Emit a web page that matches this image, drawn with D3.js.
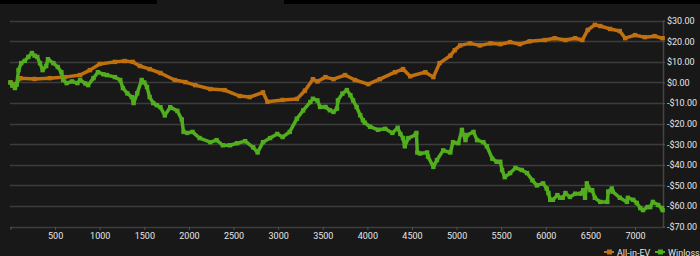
<!DOCTYPE html>
<html><head><meta charset="utf-8">
<script src="https://cdn.jsdelivr.net/npm/d3@7/dist/d3.min.js"></script>
<style>
html,body{margin:0;padding:0;background:#181818;}
svg{display:block;}
</style></head>
<body>
<svg id="chart" width="700" height="256"></svg>
<script>
// Hands played
const evHands = [0,20,50,110,270,440,610,780,890,1000,1170,1280,1370,1450,1560,1680,1840,1960,2070,2240,2400,2570,2680,2830,2880,3050,3210,3300,3390,3440,3530,3620,3750,3860,4010,4140,4310,4400,4480,4650,4740,4810,4930,4980,5040,5150,5260,5380,5490,5600,5710,5820,5990,6100,6220,6330,6410,6470,6550,6610,6720,6830,6890,7000,7110,7220,7310];
// All-in-EV ($)
const evValues = [0,-0.8,-1.2,2.1,1.7,2.1,2.6,3.6,6,9,10,10.4,10,8,6.5,4.6,1.2,0.2,-1.3,-3.2,-3.7,-6.6,-7.1,-4.8,-9.4,-8.5,-8,-4,1.6,0.5,2.6,1.6,3.6,1.2,-0.8,1.6,5,6.5,3,5,2.6,9.4,13,15.7,18,19,18,19,18.6,19.6,18.6,20,20.6,21.5,20.6,21.5,20.6,25.5,28,27.4,26,25,21.5,23,22,22.5,21.5];

const wlHands = [0,20,50,70,90,120,160,200,240,270,300,330,360,400,420,480,530,570,590,630,690,750,780,840,870,930,980,1040,1080,1170,1230,1260,1310,1360,1380,1420,1470,1500,1530,1560,1600,1640,1680,1730,1790,1870,1920,1940,1980,2040,2120,2240,2310,2380,2460,2540,2630,2720,2770,2830,2910,2990,3050,3130,3210,3280,3360,3390,3440,3470,3530,3580,3620,3660,3670,3720,3770,3810,3840,3880,3920,3950,3970,4030,4120,4200,4280,4340,4370,4400,4420,4460,4540,4550,4560,4590,4670,4680,4740,4780,4850,4930,4960,5020,5060,5100,5120,5190,5230,5300,5340,5400,5450,5490,5510,5540,5600,5660,5730,5790,5850,5900,5970,6010,6030,6050,6080,6130,6160,6190,6220,6270,6330,6390,6420,6440,6460,6500,6520,6550,6610,6690,6700,6740,6750,6830,6910,6920,6980,7020,7060,7090,7140,7170,7200,7260,7300,7310];
// Winloss ($)
const wlValues = [0,-1.5,-2.7,-1,6,9.4,10.5,12.4,14.3,13,12.4,9.4,6,8,11.3,9.4,7.5,5,1.2,-0.3,0.5,-0.3,1.2,-0.5,-1.3,2.1,5,4,3.6,2.6,1.2,-2.7,-5.3,-7.1,-10,-5.3,1.2,0,-2.2,-7.1,-10,-11,-12,-16,-12,-13.8,-18,-24,-24.5,-24,-27,-29,-28,-30.5,-30.5,-29.5,-28.5,-31.5,-34,-29,-27,-25,-26.5,-24,-17.6,-13.6,-9.5,-7.9,-8.7,-11.9,-11.9,-13.5,-14.3,-12.7,-8.7,-5.4,-3.7,-6.2,-8.7,-11.9,-15.9,-18.3,-19.5,-21.5,-23,-22.5,-24.5,-22,-25,-27,-31,-27,-25.5,-24.5,-34,-34.5,-34,-36,-41,-37.7,-33,-34,-29,-29.5,-23,-28,-25.5,-24,-28,-29,-31,-37,-38.5,-38.5,-42.5,-46,-44,-41.5,-42.5,-44,-47.5,-50,-49,-51.5,-53.7,-57,-57,-54.7,-56,-56,-53.7,-55.6,-54,-54,-52.3,-56,-49,-52.3,-52.3,-56,-58,-58,-53,-51.5,-53,-56,-58,-56,-57,-58.5,-61,-62,-60.5,-60.5,-58,-59.5,-61,-62];

const xTicks = [0,500,1000,1500,2000,2500,3000,3500,4000,4500,5000,5500,6000,6500,7000];
const yTicks = [-70,-60,-50,-40,-30,-20,-10,0,10,20,30];
const seriesNames = ["All-in-EV","Winloss"];
const seriesColors = ["#c0700f","#52ad1f"];

const svg = d3.select("#chart");
const font = "Roboto, 'Open Sans', sans-serif";

// top black strips
svg.append("rect").attr("x",0).attr("y",0).attr("width",157).attr("height",4).attr("fill","#000");
svg.append("rect").attr("x",284).attr("y",0).attr("width",416).attr("height",4).attr("fill","#000");

const x = d3.scaleLinear().domain([0,7314]).range([10.5,663]);
const y = d3.scaleLinear().domain([-70,30]).range([226.6,20.7]);

// grid
svg.append("g").selectAll("line").data(yTicks).join("line")
  .attr("x1",10).attr("x2",663)
  .attr("y1",d=>Math.round(y(d))+0.5).attr("y2",d=>Math.round(y(d))+0.5)
  .attr("stroke","#3c3c3c").attr("stroke-width",1.5);

// right axis
const yAxis = d3.axisRight(y).tickValues(yTicks).tickSize(2).tickPadding(2)
  .tickFormat(d => (d<0?"-$":"$") + Math.abs(d).toFixed(2));
const gy = svg.append("g").attr("transform","translate(663,0)").call(yAxis);
gy.select(".domain").attr("stroke","#444").attr("stroke-width",1.5);
gy.selectAll(".tick line").attr("stroke","#555");
gy.selectAll("text").attr("fill","#e6e6e6").style("font-family",font).style("font-size","9px");

// bottom axis
const xAxis = d3.axisBottom(x).tickValues(xTicks).tickSize(3).tickPadding(3)
  .tickFormat(d => d===0 ? "" : d);
const gx = svg.append("g").attr("transform","translate(0,227)").call(xAxis);
gx.select(".domain").remove();
gx.selectAll(".tick line").attr("stroke","#555");
gx.selectAll("text").attr("fill","#e6e6e6").style("font-family",font).style("font-size","9px");

const line = d3.line().x(d=>x(d[0])).y(d=>y(d[1]));
const series = [
  d3.zip(evHands, evValues),
  d3.zip(wlHands, wlValues)
];
series.forEach((data,i)=>{
  svg.append("path").datum(data).attr("d",line)
    .attr("fill","none").attr("stroke",seriesColors[i]).attr("stroke-width",3.5)
    .attr("stroke-linejoin","round");
  svg.append("g").selectAll("rect").data(data).join("rect")
    .attr("x",d=>x(d[0])-2.2).attr("y",d=>y(d[1])-2.2)
    .attr("width",4.4).attr("height",4.4).attr("fill",seriesColors[i]);
});

// legend
const legendX = [604, 655];
seriesNames.forEach((n,i)=>{
  const g = svg.append("g").attr("transform",`translate(${legendX[i]},252)`);
  g.append("line").attr("x1",0).attr("x2",10).attr("y1",0).attr("y2",0)
    .attr("stroke",seriesColors[i]).attr("stroke-width",2);
  g.append("rect").attr("x",3).attr("y",-2.5).attr("width",5).attr("height",5).attr("fill",seriesColors[i]);
  g.append("text").attr("x",13).attr("y",3.5).text(n)
    .attr("fill","#e6e6e6").style("font-family",font).style("font-size","9px");
});
</script>
</body></html>
